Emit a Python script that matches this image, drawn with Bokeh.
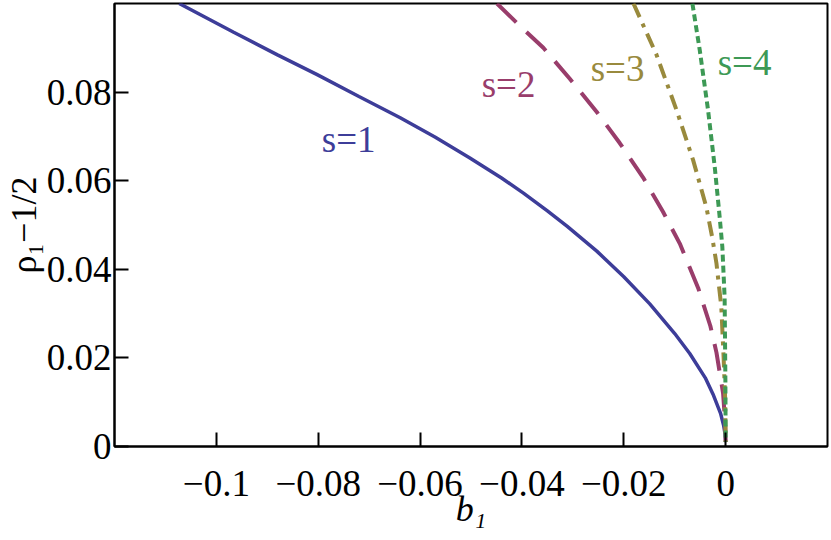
from bokeh.plotting import figure
from bokeh.models import Range1d, FixedTicker, Label
from bokeh.embed import file_html
from bokeh.resources import INLINE

# ---- data ----
b_s1 = [-0.1073, -0.0966, -0.0880, -0.0803, -0.0720, -0.0639, -0.0570, -0.0503, -0.0440,
        -0.0397, -0.0350, -0.0311, -0.0253, -0.0200, -0.0149, -0.0100, -0.00705, -0.0040,
        -0.00248, -0.0010, -0.0004, -0.0001, 0.0]
rho_s1 = [0.1000, 0.0935, 0.0884, 0.0840, 0.0790, 0.0742, 0.0698, 0.0652, 0.0606,
          0.0572, 0.0532, 0.0497, 0.0441, 0.0383, 0.0322, 0.0255, 0.0210, 0.0155,
          0.0118, 0.0075, 0.0048, 0.0028, 0.0010]

b_s2 = [-0.0449, -0.0400, -0.0358, -0.0306, -0.0253, -0.0208, -0.0162, -0.0123, -0.0090,
        -0.0054, -0.0030, -0.0018, -0.0005, -0.0001, 0.0]
rho_s2 = [0.1000, 0.0945, 0.0900, 0.0830, 0.0755, 0.0685, 0.0607, 0.0530, 0.0458,
          0.0358, 0.0272, 0.0212, 0.0120, 0.0055, 0.0010]

b_s3 = [-0.0181, -0.0136, -0.00966, -0.0064, -0.0038, -0.0026, -0.0018, -0.00085,
        -0.0004, -0.0001, 0.0]
rho_s3 = [0.1000, 0.0885, 0.0760, 0.0647, 0.0541, 0.0470, 0.0413, 0.0315,
          0.0202, 0.0110, 0.0010]

b_s4 = [-0.00653, -0.0051, -0.00346, -0.00215, -0.00118, -0.00065, -0.0002, -0.00005, 0.0]
rho_s4 = [0.1000, 0.0896, 0.0760, 0.0632, 0.0519, 0.0451, 0.0337, 0.0150, 0.0010]

series_names = ["s=1", "s=2", "s=3", "s=4"]

x_ticks = [-0.1, -0.08, -0.06, -0.04, -0.02, 0.0]
x_tick_labels = ["\u22120.1", "\u22120.08", "\u22120.06", "\u22120.04", "\u22120.02", "0"]
y_ticks = [0.0, 0.02, 0.04, 0.06, 0.08]
y_tick_labels = ["0", "0.02", "0.04", "0.06", "0.08"]

x_title = "b\u2081"
y_title = "\u03c1\u2081\u22121/2"

# ---- styling ----
FONT = "Liberation Serif"
FS = "37px"
colors = ["#3D3D99", "#993D6B", "#998A3D", "#3D9955"]
dashes = ["solid", "27 14", "15 7 4 7", "7 4"]
widths = [3.5, 4, 4, 4]
label_pos = [(-0.0793, 0.0692), (-0.0479, 0.0817), (-0.0265, 0.0853), (-0.00157, 0.0867)]

p = figure(frame_width=713, frame_height=443,
           x_range=Range1d(-0.12, 0.02), y_range=Range1d(0.0, 0.1),
           output_backend="svg", toolbar_location=None,
           min_border_left=113, min_border_right=3, min_border_top=3, min_border_bottom=92)
p.background_fill_color = "white"
p.border_fill_color = "white"
p.outline_line_color = "black"
p.outline_line_width = 2
p.outline_line_alpha = 1
p.grid.visible = False

for ax, ticks, labels in ((p.xaxis[0], x_ticks, x_tick_labels), (p.yaxis[0], y_ticks, y_tick_labels)):
    ax.ticker = FixedTicker(ticks=ticks)
    ax.major_label_overrides = dict(zip(ticks, labels))
    ax.major_tick_in = 14
    ax.major_tick_out = 0
    ax.minor_tick_in = 0
    ax.minor_tick_out = 0
    ax.axis_line_width = 2
    ax.axis_line_color = "black"
    ax.major_tick_line_width = 2
    ax.major_tick_line_color = "black"
    ax.major_label_text_font = FONT
    ax.major_label_text_font_size = FS
    ax.major_label_text_color = "black"
    ax.axis_label_text_font = FONT
    ax.axis_label_text_font_size = "36px"
    ax.axis_label_text_color = "black"

p.xaxis[0].axis_label = x_title
p.xaxis[0].axis_label_text_font_style = "italic"
p.xaxis[0].major_label_standoff = 24
p.xaxis[0].axis_label_standoff = -10

p.yaxis[0].axis_label = y_title
p.yaxis[0].axis_label_text_font_style = "normal"
p.yaxis[0].axis_label_text_line_height = 0.6
p.yaxis[0].major_label_standoff = 3
p.yaxis[0].axis_label_standoff = 0

xs = [b_s1, b_s2, b_s3, b_s4]
ys = [rho_s1, rho_s2, rho_s3, rho_s4]
for x, y, c, d, w in zip(xs, ys, colors, dashes, widths):
    p.line(x, y, line_color=c, line_width=w, line_dash=d)

for name, (lx, ly), c in zip(series_names, label_pos, colors):
    p.add_layout(Label(x=lx, y=ly, text=name, text_font=FONT, text_font_size="37px",
                       text_color=c, text_align="left", text_baseline="alphabetic"))

open("out.html", "w").write(file_html(p, INLINE))
